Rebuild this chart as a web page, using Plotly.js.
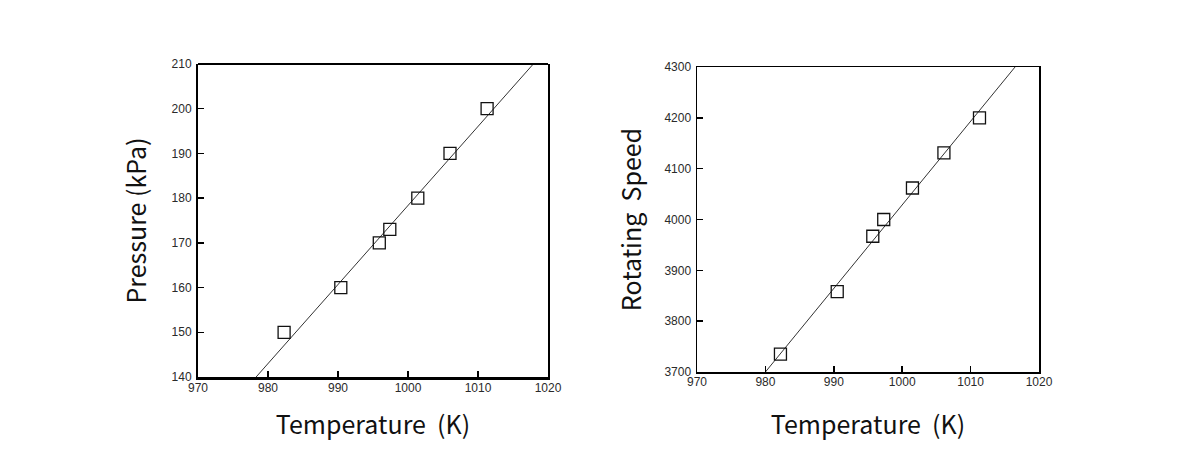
<!DOCTYPE html>
<html>
<head>
<meta charset="utf-8">
<script src="https://cdn.plot.ly/plotly-3.0.1.min.js"></script>
<style>html,body{margin:0;padding:0;background:#fff;}#chart{width:1198px;height:459px;}</style>
</head>
<body>
<div id="chart"></div>
<script>
// Left panel: Pressure vs Temperature
const tempPressure = [982.3, 990.4, 995.9, 997.4, 1001.4, 1006.0, 1011.3];
const pressure = [150, 160, 170, 173, 180, 190, 200];
const pressureFitX = [978.3, 1017.9];
const pressureFitY = [140, 210];

// Right panel: Rotating speed vs Temperature
const tempSpeed = [982.2, 990.5, 995.7, 997.3, 1001.5, 1006.1, 1011.3];
const speed = [3735, 3858, 3967, 4000, 4062, 4131, 4200];
const speedFitX = [980.0, 1016.5];
const speedFitY = [3700, 4300];

const xTicks = [970, 980, 990, 1000, 1010, 1020];
const pressureTicks = [140, 150, 160, 170, 180, 190, 200, 210];
const speedTicks = [3700, 3800, 3900, 4000, 4100, 4200, 4300];

const titleFont = {family: '"Noto Sans CJK KR", "Noto Sans", sans-serif', size: 25, color: '#111'};
const tickFont = {family: '"Liberation Sans", Arial, sans-serif', size: 12, color: '#2a2a2a'};

const markerStyle = {symbol: 'square-open', size: 12, color: '#111', line: {width: 1.3, color: '#111'}};
const fitStyle = {color: '#333', width: 1};

const traces = [
  {x: pressureFitX, y: pressureFitY, mode: 'lines', line: fitStyle, xaxis: 'x', yaxis: 'y', hoverinfo: 'skip'},
  {x: tempPressure, y: pressure, mode: 'markers', marker: markerStyle, xaxis: 'x', yaxis: 'y'},
  {x: speedFitX, y: speedFitY, mode: 'lines', line: fitStyle, xaxis: 'x2', yaxis: 'y2', hoverinfo: 'skip'},
  {x: tempSpeed, y: speed, mode: 'markers', marker: markerStyle, xaxis: 'x2', yaxis: 'y2'}
];

const W = 1198, H = 459;
function xd(a, b) { return [a / W, b / W]; }
function yd(top, bottom) { return [1 - bottom / H, 1 - top / H]; }

const layout = {
  width: W, height: H,
  margin: {l: 0, r: 0, t: 0, b: 0},
  paper_bgcolor: '#fff', plot_bgcolor: '#fff',
  showlegend: false,
  xaxis: {
    domain: xd(198, 548), anchor: 'y', range: [970, 1020],
    tickmode: 'array', tickvals: xTicks, ticks: 'inside', ticklen: 6, tickwidth: 2, tickcolor: '#000',
    showline: true, linewidth: 3, linecolor: '#000', mirror: false,
    showgrid: false, zeroline: false, tickfont: tickFont, ticklabelstandoff: -2,
    title: {text: 'Temperature\u00a0\u00a0(K)', font: titleFont, standoff: 23}
  },
  yaxis: {
    domain: yd(64, 377), anchor: 'x', range: [140, 210],
    tickmode: 'array', tickvals: pressureTicks, ticks: 'inside', ticklen: 6, tickwidth: 1.5, tickcolor: '#000',
    showline: true, linewidth: 2, linecolor: '#000', mirror: true,
    showgrid: false, zeroline: false, tickfont: tickFont, ticklabelstandoff: 2,
    title: {text: 'Pressure (kPa)', font: titleFont, standoff: 18}
  },
  xaxis2: {
    domain: xd(697, 1039), anchor: 'y2', range: [970, 1020],
    tickmode: 'array', tickvals: xTicks, ticks: 'inside', ticklen: 6, tickwidth: 1.5, tickcolor: '#000',
    showline: true, linewidth: 1.5, linecolor: '#000', mirror: true,
    showgrid: false, zeroline: false, tickfont: tickFont, ticklabelstandoff: -2,
    title: {text: 'Temperature\u00a0\u00a0(K)', font: titleFont, standoff: 28}
  },
  yaxis2: {
    domain: yd(67, 372), anchor: 'x2', range: [3700, 4300],
    tickmode: 'array', tickvals: speedTicks, ticks: 'inside', ticklen: 6, tickwidth: 1.5, tickcolor: '#000',
    showline: true, linewidth: 1.5, linecolor: '#000', mirror: true,
    showgrid: false, zeroline: false, tickfont: tickFont, ticklabelstandoff: 2,
    title: {text: 'Rotating\u00a0\u00a0Speed', font: titleFont, standoff: 15}
  },
  shapes: [
    {type: 'line', xref: 'x domain', yref: 'y domain', x0: 0, x1: 1, y0: 1, y1: 1, line: {color: '#000', width: 2}}
  ]
};

Plotly.newPlot('chart', traces, layout, {displayModeBar: false, staticPlot: true});
</script>
</body>
</html>
